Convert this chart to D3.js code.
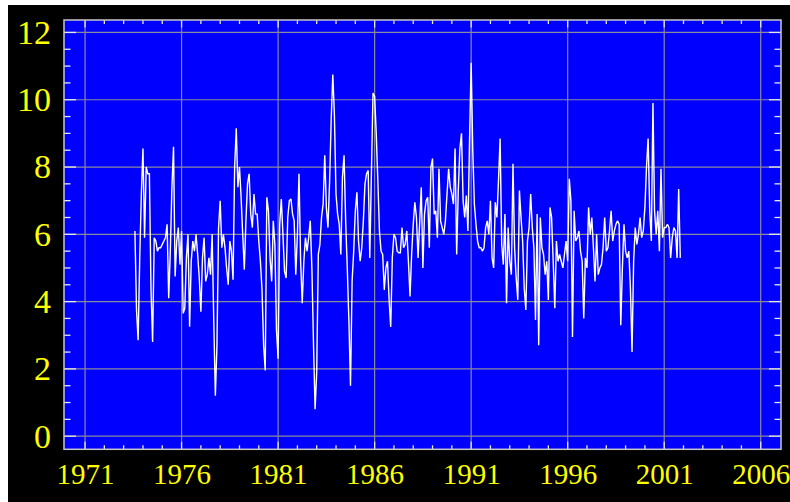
<!DOCTYPE html>
<html><head><meta charset="utf-8">
<script src="https://cdn.jsdelivr.net/npm/d3@7/dist/d3.min.js"></script>
<style>html,body{margin:0;padding:0;background:#fff;overflow:hidden} svg{display:block}</style>
</head><body>
<script>
// ---- data (monthly values, first value = August 1973) ----
const startYear = 1973, startMonth = 8;
const values1973to1978 = [
  6.1, 3.75, 2.85, 5.3, 7.2,
  8.55, 5.9, 8.0, 7.8, 7.8, 4.35, 2.8, 5.9, 5.8, 5.5, 5.6, 5.6,
  5.7, 5.8, 5.9, 6.3, 4.1, 5.5, 7.4, 8.6, 4.75, 5.8, 6.2, 5.1,
  6.1, 3.65, 3.8, 5.3, 6.0, 3.25, 5.2, 5.8, 5.5, 6.0, 5.4, 4.7,
  3.7, 5.3, 5.9, 4.6, 4.8, 5.3, 4.8, 6.0, 3.45, 1.2, 2.7, 6.2,
  7.0, 5.6, 6.0, 5.6, 5.0, 4.5, 5.8, 5.5, 4.65, 8.0, 9.15, 7.4
];
const values1979to1984 = [
  8.0, 7.1, 6.0, 4.95, 6.4, 7.5, 7.8, 6.6, 6.2, 7.2, 6.6, 6.6,
  5.8, 5.2, 4.35, 2.7, 1.95, 7.1, 6.7, 5.3, 4.6, 6.4, 5.7, 3.15,
  2.3, 6.3, 7.05, 6.0, 4.9, 4.7, 6.5, 7.0, 7.05, 6.6, 6.4, 4.8,
  6.0, 7.8, 5.2, 3.95, 5.2, 5.9, 5.5, 5.9, 6.4, 5.0, 2.75, 0.8,
  1.9, 5.4, 5.7, 6.5, 6.9, 8.35, 6.8, 6.2, 7.55, 9.4, 10.75, 9.55,
  7.2, 6.6, 6.3, 5.4, 7.7, 8.35, 6.4, 5.0, 3.45, 1.5, 4.6, 5.5
];
const values1985to1990 = [
  6.7, 7.25, 5.8, 5.2, 5.6, 6.4, 7.5, 7.8, 7.9, 5.3, 7.8, 10.2,
  10.1, 9.0, 7.6, 6.1, 5.5, 5.4, 4.35, 5.0, 5.2, 4.05, 3.25, 5.3,
  6.0, 5.9, 5.5, 5.45, 5.45, 6.2, 5.6, 5.7, 6.1, 5.2, 4.15, 5.4,
  6.3, 6.95, 6.5, 5.3, 6.35, 7.4, 5.0, 6.6, 7.0, 7.1, 5.6, 8.0,
  8.25, 6.6, 6.7, 5.9, 7.95, 6.4, 6.2, 6.0, 6.4, 7.2, 7.95, 7.4,
  7.2, 6.9, 8.55, 5.4, 7.3, 8.55, 9.0, 7.0, 6.5, 7.15, 6.1, 8.8
];
const values1991to1996 = [
  11.1, 8.5, 6.9, 6.3, 5.8, 5.6, 5.6, 5.5, 5.6, 6.2, 6.4, 6.0,
  7.0, 5.3, 5.0, 6.95, 6.5, 7.6, 8.85, 5.7, 5.1, 6.6, 3.95, 6.2,
  5.2, 4.8, 8.1, 5.6, 4.7, 4.05, 7.3, 6.5, 5.8, 4.4, 3.75, 5.8,
  6.2, 7.2, 6.2, 5.6, 3.45, 6.6, 2.7, 6.5, 5.6, 5.4, 4.8, 5.2,
  4.05, 6.8, 6.5, 5.2, 3.8, 5.8, 5.2, 5.4, 5.2, 5.0, 5.4, 5.8,
  5.2, 7.65, 7.0, 2.95, 6.7, 5.8, 5.9, 6.1, 5.5, 5.2, 3.5, 5.3
];
const values1997to2001 = [
  5.0, 6.8, 6.0, 6.5, 5.6, 4.6, 6.0, 4.8, 5.0, 5.1, 5.6, 6.5,
  5.5, 5.6, 6.1, 6.7, 5.8, 6.1, 6.3, 6.4, 6.3, 3.3, 5.0, 6.3,
  5.5, 5.3, 5.5, 4.4, 2.5, 5.2, 6.2, 5.7, 6.0, 6.5, 5.9, 6.1,
  6.8, 8.0, 8.85, 6.7, 5.8, 9.9, 6.7, 6.0, 6.7, 5.5, 7.95, 5.9,
  6.2, 6.2, 6.3, 6.2, 5.3, 5.9, 6.2, 6.1, 5.3, 7.35, 5.3
];
const yTickValues = [0, 2, 4, 6, 8, 10, 12];
const yTickLabels = ["0", "2", "4", "6", "8", "10", "12"];
const xTickValues = [1971, 1976, 1981, 1986, 1991, 1996, 2001, 2006];
const xTickLabels = ["1971", "1976", "1981", "1986", "1991", "1996", "2001", "2006"];

// ---- layout ----
const W = 790, H = 502;
const plot = {left: 64, right: 781, top: 20, bottom: 449.3};
const x = d3.scaleLinear().domain([1969.91, 2007.05]).range([plot.left, plot.right]);
const y = d3.scaleLinear().domain([-0.39, 12.37]).range([plot.bottom, plot.top]);

const allValues = [].concat(values1973to1978, values1979to1984, values1985to1990, values1991to1996, values1997to2001);
const series = allValues.map((v, i) => ({t: startYear + (startMonth - 1 + i) / 12, v}));

const svg = d3.select("body").append("svg").attr("width", W).attr("height", H);
svg.append("rect").attr("x", 8).attr("y", 5).attr("width", W - 8).attr("height", H - 5).attr("fill", "#000");
svg.append("rect").attr("x", plot.left).attr("y", plot.top)
  .attr("width", plot.right - plot.left).attr("height", plot.bottom - plot.top).attr("fill", "#0000ff");

// grid
const grid = svg.append("g").attr("stroke", "#8a8a9a").attr("stroke-width", 1.2);
grid.selectAll("line.gx").data(xTickValues).join("line")
  .attr("x1", d => x(d)).attr("x2", d => x(d)).attr("y1", plot.top).attr("y2", plot.bottom);
grid.selectAll("line.gy").data(yTickValues).join("line")
  .attr("y1", d => y(d)).attr("y2", d => y(d)).attr("x1", plot.left).attr("x2", plot.right);

// data line
svg.append("path").datum(series)
  .attr("fill", "none").attr("stroke", "#ffffff").attr("stroke-width", 1.4)
  .attr("stroke-linejoin", "miter").attr("stroke-miterlimit", 2)
  .attr("d", d3.line().x(d => x(d.t)).y(d => y(d.v)));

// minor / major ticks
const ticks = svg.append("g").attr("stroke", "#e8e8e8").attr("stroke-width", 1.3);
const yMinor = d3.range(0, 12.001, 0.5);
ticks.selectAll("line.yl").data(yMinor).join("line")
  .attr("x1", plot.left).attr("x2", d => plot.left + (d % 2 === 0 ? 12 : 6.5))
  .attr("y1", d => y(d)).attr("y2", d => y(d));
ticks.selectAll("line.yr").data(yMinor).join("line")
  .attr("x1", plot.right).attr("x2", d => plot.right - (d % 2 === 0 ? 12 : 6.5))
  .attr("y1", d => y(d)).attr("y2", d => y(d));
const xMinor = d3.range(1971, 2006.5, 1);
ticks.selectAll("line.xt").data(xMinor).join("line")
  .attr("x1", d => x(d)).attr("x2", d => x(d))
  .attr("y1", plot.top).attr("y2", d => plot.top + ((d - 1971) % 5 === 0 ? 7.5 : 4));
ticks.selectAll("line.xb").data(xMinor).join("line")
  .attr("x1", d => x(d)).attr("x2", d => x(d))
  .attr("y1", plot.bottom).attr("y2", d => plot.bottom - ((d - 1971) % 5 === 0 ? 7.5 : 4));

// border
svg.append("rect").attr("x", plot.left).attr("y", plot.top)
  .attr("width", plot.right - plot.left).attr("height", plot.bottom - plot.top)
  .attr("fill", "none").attr("stroke", "#c8c8c8").attr("stroke-width", 1.5);

// axis labels
const fontFam = "'Liberation Serif','Times New Roman',serif";
const yAxis = svg.append("g").attr("transform", `translate(${plot.left},0)`)
  .call(d3.axisLeft(y).tickValues(yTickValues).tickSize(0).tickPadding(13)
    .tickFormat((d, i) => yTickLabels[i]));
yAxis.select(".domain").remove();
yAxis.selectAll("text").attr("fill", "#ffff00").attr("font-family", fontFam).attr("font-size", 34);

const xAxis = svg.append("g").attr("transform", `translate(0,${plot.bottom})`)
  .call(d3.axisBottom(x).tickValues(xTickValues).tickSize(0).tickPadding(14.4)
    .tickFormat((d, i) => xTickLabels[i]));
xAxis.select(".domain").remove();
xAxis.selectAll("text").attr("fill", "#ffff00").attr("font-family", fontFam).attr("font-size", 29);
</script>
</body></html>
